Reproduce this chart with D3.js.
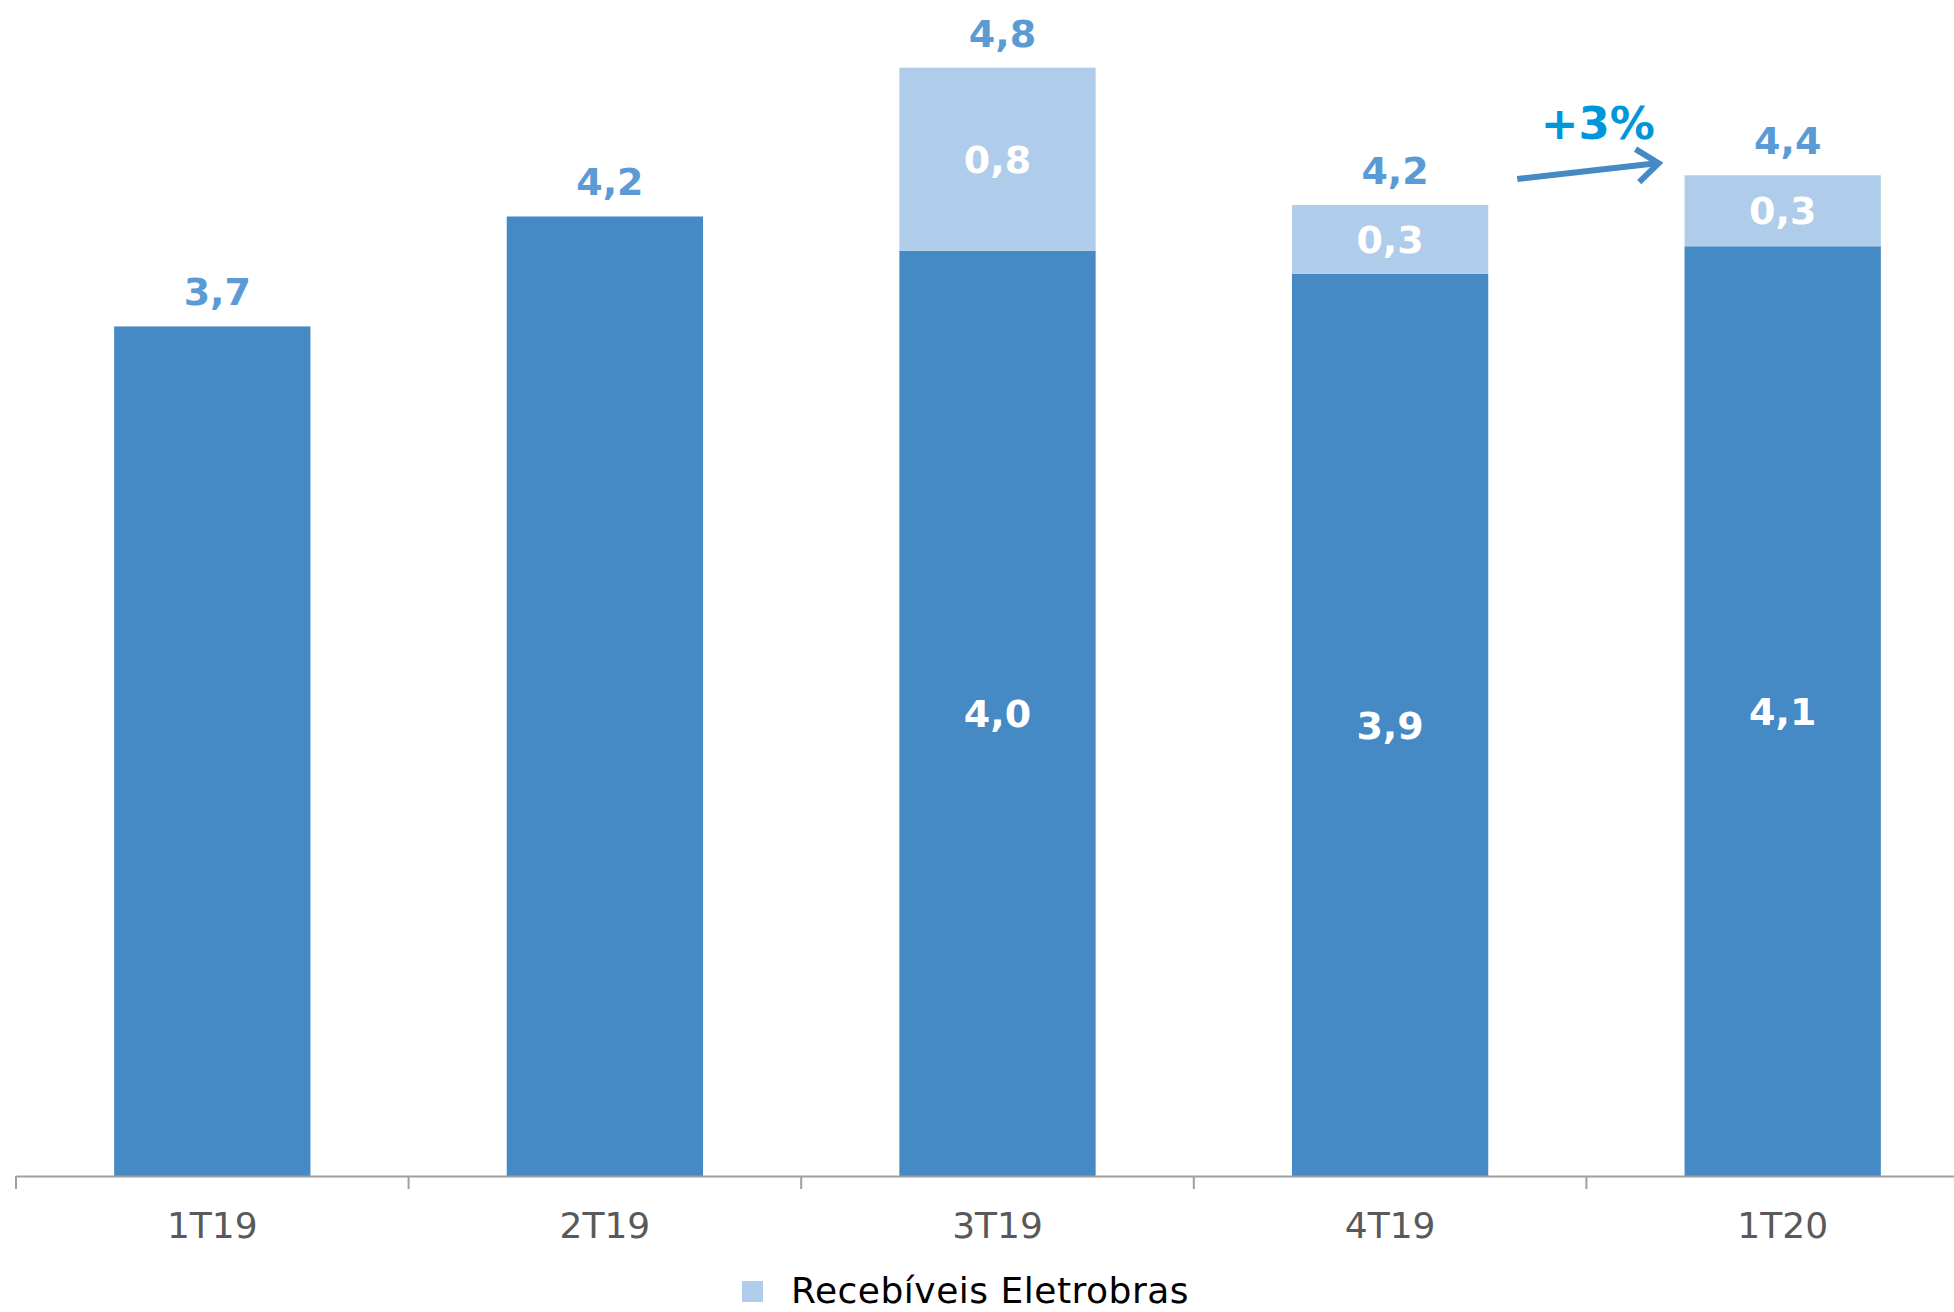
<!DOCTYPE html>
<html>
<head>
<meta charset="utf-8">
<script src="https://cdn.jsdelivr.net/npm/d3@7"></script>
<style>
  html, body { margin: 0; padding: 0; background: #ffffff; }
  svg { display: block; }
</style>
</head>
<body>
<svg id="chart" width="1954" height="1312"></svg>
<script>
// ---- data ----
const categories = ["1T19", "2T19", "3T19", "4T19", "1T20"];
const baseValues = [3.71, 4.19, 4.04, 3.94, 4.06];
const eletrobrasValues = [0, 0, 0.80, 0.30, 0.31];
const legendLabels = ["Recebíveis Eletrobras"];
const growthLabel = "+3%";

// ---- layout ----
const W = 1954, H = 1312;
const baseY = 1176;
const svg = d3.select("#chart");
const font = "'DejaVu Sans', Verdana, sans-serif";

const x = d3.scaleBand()
  .domain(categories)
  .range([16, 1979])
  .paddingInner(0.5)
  .paddingOuter(0.25);

const y = d3.scaleLinear().domain([0, 5]).range([baseY, baseY - 5 * 229]);

const fmt = v => d3.format(".1f")(v).replace(".", ",");

const colDark = "#4589C5";
const colLight = "#AFCDEA";
const colLabel = "#5B9BD5";

const rows = categories.map((c, i) => ({
  cat: c, base: baseValues[i], extra: eletrobrasValues[i], total: baseValues[i] + eletrobrasValues[i]
}));

// dark bars
svg.append("g").selectAll("rect").data(rows).join("rect")
  .attr("x", d => x(d.cat))
  .attr("width", x.bandwidth())
  .attr("y", d => y(d.base))
  .attr("height", d => y(0) - y(d.base))
  .attr("fill", colDark);

// light bars
svg.append("g").selectAll("rect").data(rows.filter(d => d.extra > 0)).join("rect")
  .attr("x", d => x(d.cat))
  .attr("width", x.bandwidth())
  .attr("y", d => y(d.total))
  .attr("height", d => y(d.base) - y(d.total))
  .attr("fill", colLight);

// axis
const axis = d3.axisBottom(x).tickSize(0).tickFormat(d => d);
const gAxis = svg.append("g").attr("transform", `translate(0,${baseY})`).call(axis);
gAxis.select(".domain").attr("stroke", "#A0A0A0").attr("stroke-width", 2);
gAxis.selectAll("text")
  .attr("font-family", font).attr("font-size", 36).attr("fill", "#595959")
  .attr("dy", null).attr("y", 62);
// tick marks at band boundaries
const step = x.step();
const bounds = categories.map(c => x(c) - step * 0.25);
svg.append("g").selectAll("line").data(bounds).join("line")
  .attr("x1", d => d).attr("x2", d => d)
  .attr("y1", baseY).attr("y2", baseY + 13)
  .attr("stroke", "#A0A0A0").attr("stroke-width", 2);

// total labels
svg.append("g").selectAll("text").data(rows).join("text")
  .attr("x", d => x(d.cat) + x.bandwidth() / 2 + 5)
  .attr("y", d => y(d.total) - 21)
  .attr("text-anchor", "middle")
  .attr("font-family", font).attr("font-weight", "bold").attr("font-size", 38)
  .attr("fill", colLabel)
  .text(d => fmt(d.total));

// inner labels
const stacked = rows.filter(d => d.extra > 0);
svg.append("g").selectAll("text").data(stacked).join("text")
  .attr("x", d => x(d.cat) + x.bandwidth() / 2)
  .attr("y", d => (y(d.base) + y(0)) / 2)
  .attr("dy", "0.36em")
  .attr("text-anchor", "middle")
  .attr("font-family", font).attr("font-weight", "bold").attr("font-size", 38)
  .attr("fill", "#ffffff")
  .text(d => fmt(d.base));
svg.append("g").selectAll("text").data(stacked).join("text")
  .attr("x", d => x(d.cat) + x.bandwidth() / 2)
  .attr("y", d => (y(d.total) + y(d.base)) / 2)
  .attr("dy", "0.36em")
  .attr("text-anchor", "middle")
  .attr("font-family", font).attr("font-weight", "bold").attr("font-size", 38)
  .attr("fill", "#ffffff")
  .text(d => fmt(d.extra));

// growth arrow between 4T19 and 1T20
const x0 = x("4T19") + x.bandwidth() + 29;
const x1 = x("1T20") - 26;
const ya = y(rows[3].total) - 26;
const yb = y(rows[4].total) - 12;
const g = svg.append("g").attr("stroke", colDark).attr("stroke-width", 6).attr("fill", "none").attr("stroke-linecap", "butt");
g.append("line").attr("x1", x0).attr("y1", ya).attr("x2", x1 - 2).attr("y2", yb);
const ang = Math.atan2(yb - ya, x1 - x0);
const hl = 27, ha = 0.66;
g.append("path")
  .attr("stroke-linejoin", "miter")
  .attr("d", `M${x1 - hl * Math.cos(ang - ha)},${yb - hl * Math.sin(ang - ha)} L${x1},${yb} L${x1 - hl * Math.cos(ang + ha)},${yb - hl * Math.sin(ang + ha)}`);
svg.append("text")
  .attr("x", (x0 + x1) / 2 + 10)
  .attr("y", 139)
  .attr("text-anchor", "middle")
  .attr("font-family", font).attr("font-weight", "bold").attr("font-size", 45)
  .attr("fill", "#0096DA")
  .text(growthLabel);

// legend
const lg = svg.append("g").attr("transform", "translate(742,1281)");
lg.append("rect").attr("width", 21).attr("height", 21).attr("fill", colLight);
lg.append("text").attr("x", 49).attr("y", 22)
  .attr("font-family", font).attr("font-size", 36).attr("letter-spacing", 0.5).attr("fill", "#000000")
  .text(legendLabels[0]);
</script>
</body>
</html>
